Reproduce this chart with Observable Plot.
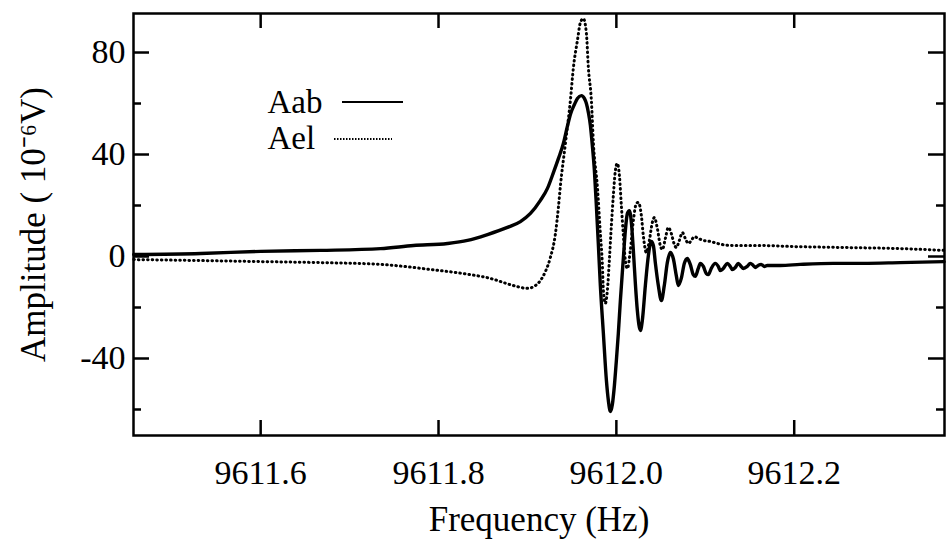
<!DOCTYPE html>
<html>
<head>
<meta charset="utf-8">
<script src="https://cdn.jsdelivr.net/npm/d3@7"></script>
<script src="https://cdn.jsdelivr.net/npm/@observablehq/plot@0.6"></script>
<style>
  html, body { margin: 0; padding: 0; background: #fff; }
  #chart svg { display: block; }
</style>
</head>
<body>
<div id="chart"></div>
<script>
// ---- data ----
const seriesNames = ["Aab", "Ael"];

const aabFreq = [9611.4573, 9611.5326, 9611.6000, 9611.6674, 9611.7348, 9611.7719, 9611.8101, 9611.8326, 9611.8551, 9611.8775,
  9611.8921, 9611.9034, 9611.9146, 9611.9225, 9611.9292, 9611.9348, 9611.9404, 9611.9449, 9611.9483, 9611.9528,
  9611.9562, 9611.9607, 9611.9640, 9611.9663, 9611.9685, 9611.9708, 9611.9730, 9611.9753, 9611.9775, 9611.9798,
  9611.9820, 9611.9854, 9611.9888, 9611.9910, 9611.9933, 9611.9955, 9611.9978, 9612.0000, 9612.0022, 9612.0045,
  9612.0079, 9612.0101, 9612.0124, 9612.0146, 9612.0169, 9612.0191, 9612.0213, 9612.0236, 9612.0270, 9612.0292,
  9612.0326, 9612.0360, 9612.0393, 9612.0416, 9612.0438, 9612.0472, 9612.0506, 9612.0539, 9612.0573, 9612.0607,
  9612.0640, 9612.0674, 9612.0697, 9612.0730, 9612.0764, 9612.0798, 9612.0831, 9612.0865, 9612.0888, 9612.0921,
  9612.0944, 9612.0978, 9612.1011, 9612.1034, 9612.1067, 9612.1112, 9612.1146, 9612.1169, 9612.1202, 9612.1247,
  9612.1281, 9612.1303, 9612.1337, 9612.1371, 9612.1404, 9612.1427, 9612.1472, 9612.1506, 9612.1539, 9612.1562,
  9612.1596, 9612.1629, 9612.1663, 9612.1697, 9612.1843, 9612.2067, 9612.2438, 9612.2775, 9612.3191, 9612.3685];
const aabAmp = [0.8, 1.2, 2.0, 2.4, 3.1, 4.3, 5.1, 6.3, 8.6, 11.4,
  13.7, 16.9, 22.0, 26.7, 32.9, 38.4, 44.3, 51.0, 55.7, 59.6,
  62.0, 63.1, 62.0, 60.0, 56.5, 51.4, 43.5, 33.7, 20.0, 4.3,
  -11.4, -30.2, -48.6, -56.5, -60.8, -58.0, -50.6, -40.8, -30.2, -17.3,
  -0.4, 10.2, 16.9, 18.0, 13.3, 2.4, -10.2, -21.2, -29.0, -25.1,
  -11.4, 0.4, 5.9, 4.3, -2.4, -11.4, -17.3, -11.4, -2.4, 1.6,
  -0.8, -7.5, -11.4, -8.6, -2.7, -0.8, -3.1, -7.1, -7.8, -4.7,
  -2.7, -3.9, -6.7, -7.1, -4.7, -2.7, -3.9, -5.5, -4.7, -2.7,
  -3.9, -5.1, -4.3, -2.7, -3.9, -4.7, -3.9, -2.7, -3.5, -4.3,
  -3.5, -3.1, -3.9, -3.5, -3.5, -3.1, -2.7, -2.7, -2.4, -2.0];

const aelFreq = [9611.4573, 9611.5326, 9611.6000, 9611.6674, 9611.7348, 9611.7719, 9611.7910, 9611.8281, 9611.8584, 9611.8843,
  9611.9000, 9611.9090, 9611.9146, 9611.9202, 9611.9258, 9611.9315, 9611.9348, 9611.9371, 9611.9427, 9611.9483,
  9611.9517, 9611.9562, 9611.9596, 9611.9629, 9611.9663, 9611.9685, 9611.9719, 9611.9742, 9611.9787, 9611.9820,
  9611.9843, 9611.9854, 9611.9876, 9611.9899, 9611.9921, 9611.9944, 9611.9966, 9611.9989, 9612.0011, 9612.0034,
  9612.0056, 9612.0079, 9612.0101, 9612.0124, 9612.0157, 9612.0191, 9612.0225, 9612.0247, 9612.0281, 9612.0303,
  9612.0337, 9612.0371, 9612.0404, 9612.0427, 9612.0461, 9612.0494, 9612.0517, 9612.0551, 9612.0584, 9612.0618,
  9612.0652, 9612.0674, 9612.0708, 9612.0742, 9612.0775, 9612.0809, 9612.0843, 9612.0876, 9612.0921, 9612.0978,
  9612.1056, 9612.1135, 9612.1315, 9612.1618, 9612.1989, 9612.2596, 9612.3191, 9612.3685];
const aelAmp = [-1.2, -1.6, -2.0, -2.4, -3.1, -4.3, -5.1, -6.7, -8.6, -11.4,
  -12.5, -11.4, -9.4, -5.9, -0.4, 9.0, 19.2, 27.8, 44.3, 61.2,
  74.1, 84.7, 91.8, 93.3, 87.5, 74.1, 61.2, 44.3, 27.1, 9.0,
  -3.5, -13.3, -18.4, -13.3, -1.6, 12.2, 23.9, 33.7, 36.5, 31.8,
  20.0, 8.2, -1.6, -4.7, 2.4, 14.1, 20.8, 21.2, 16.1, 8.2,
  1.6, 6.3, 13.3, 15.3, 11.0, 4.3, 2.7, 7.1, 11.4, 9.0,
  4.7, 3.5, 6.3, 9.4, 7.1, 5.1, 6.3, 7.8, 7.1, 6.3,
  5.9, 5.1, 4.3, 4.3, 3.9, 3.5, 3.1, 2.4];

const xTicks = [9611.6, 9611.8, 9612.0, 9612.2];
const xTickLabels = ["9611.6", "9611.8", "9612.0", "9612.2"];
const yTicks = [-40, 0, 40, 80];
const yTickLabels = ["-40", "0", "40", "80"];
const yMinorTicks = [-60, -20, 20, 60];
const xTitle = "Frequency (Hz)";
const yTitle = "Amplitude ( 10\u207B\u2076V)";

// ---- build tables ----
const aab = aabFreq.map((f, i) => ({f, a: aabAmp[i]}));
const ael = aelFreq.map((f, i) => ({f, a: aelAmp[i]}));

const W = 946, H = 544;
const mL = 133, mR = 2, mT = 13, mB = 109;
const fw = W - mL - mR, fh = H - mT - mB;
const FONT = "'Liberation Serif', 'Times New Roman', serif";

const chart = Plot.plot({
  width: W, height: H,
  marginLeft: mL, marginRight: mR, marginTop: mT, marginBottom: mB,
  style: {fontFamily: FONT, fontSize: "34px", color: "#000", background: "#fff", overflow: "visible"},
  x: {domain: [9611.457, 9612.369]},
  y: {domain: [-70.2, 95.3]},
  marks: [
    Plot.line(aab, {x: "f", y: "a", stroke: "#000", strokeWidth: 3.4, curve: "monotone-x"}),
    Plot.line(ael, {x: "f", y: "a", stroke: "#000", strokeWidth: 3, strokeDasharray: "0.6 4", strokeLinecap: "round", curve: "monotone-x"}),
    Plot.frame({stroke: "#000", strokeWidth: 2.5}),
    // inward ticks
    Plot.tickX(xTicks, {x: d => d, stroke: "#000", strokeWidth: 2.5, insetTop: fh - 15}),
    Plot.tickX(xTicks, {x: d => d, stroke: "#000", strokeWidth: 2.5, insetBottom: fh - 15}),
    Plot.tickY(yTicks, {y: d => d, stroke: "#000", strokeWidth: 2.5, insetRight: fw - 16}),
    Plot.tickY(yMinorTicks, {y: d => d, stroke: "#000", strokeWidth: 2.5, insetRight: fw - 8}),
    Plot.tickY(yTicks, {y: d => d, stroke: "#000", strokeWidth: 2.5, insetLeft: fw - 16}),
    Plot.tickY(yMinorTicks, {y: d => d, stroke: "#000", strokeWidth: 2.5, insetLeft: fw - 8}),
    Plot.axisX({ticks: xTicks, tickFormat: d => xTickLabels[xTicks.indexOf(d)], tickSize: 0, tickPadding: 24, label: null, fontSize: 34}),
    Plot.axisY({ticks: yTicks, tickFormat: d => yTickLabels[yTicks.indexOf(d)], tickSize: 0, tickPadding: 8, label: null, fontSize: 34}),
    Plot.text([xTitle], {frameAnchor: "bottom", dy: 84, textAnchor: "middle", lineAnchor: "middle", fontSize: 35, fontFamily: FONT, fill: "#000"}),
    Plot.text([yTitle], {frameAnchor: "left", dx: -100, rotate: -90, textAnchor: "middle", lineAnchor: "middle", fontSize: 35, fontFamily: FONT, fill: "#000"}),
    // legend labels
    Plot.text([seriesNames[0]], {frameAnchor: "top-left", dx: 267 - mL, dy: 102 - mT, textAnchor: "start", lineAnchor: "middle", fontSize: 33, fontFamily: FONT, fill: "#000"}),
    Plot.text([seriesNames[1]], {frameAnchor: "top-left", dx: 267 - mL, dy: 138 - mT, textAnchor: "start", lineAnchor: "middle", fontSize: 33, fontFamily: FONT, fill: "#000"})
  ]
});

// legend sample lines
const svg = d3.select(chart);
svg.append("line").attr("x1", 342).attr("x2", 403).attr("y1", 102).attr("y2", 102)
  .attr("stroke", "#000").attr("stroke-width", 2.2);
svg.append("line").attr("x1", 334).attr("x2", 392).attr("y1", 139).attr("y2", 139)
  .attr("stroke", "#000").attr("stroke-width", 1.8).attr("stroke-dasharray", "1.5 1.5");

document.getElementById("chart").appendChild(chart);
</script>
</body>
</html>
